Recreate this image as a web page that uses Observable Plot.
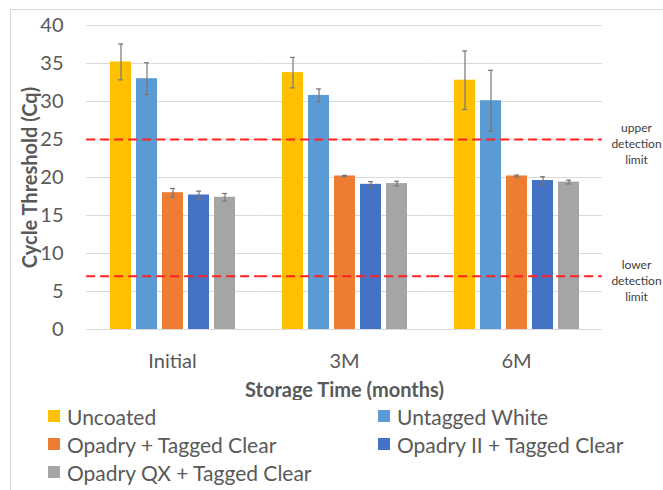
<!DOCTYPE html>
<html><head><meta charset="utf-8">
<script src="https://cdn.jsdelivr.net/npm/d3@7"></script>
<script src="https://cdn.jsdelivr.net/npm/@observablehq/plot@0.6"></script>
<style>
body{margin:0;background:#fff;font-family:Lato,sans-serif;}
#wrap{position:relative;width:663px;height:490px;overflow:hidden;background:#fff;}
#border{position:absolute;left:10px;top:9px;width:700px;height:600px;border-left:1px solid #d9d9d9;border-top:1px solid #d9d9d9;}
#chart{position:absolute;left:0;top:0;}
.item{position:absolute;display:flex;align-items:center;font-size:21px;color:#595959;white-space:nowrap;height:28px;font-family:Lato,sans-serif;}
.sw{width:12px;height:12px;margin-right:7px;flex:none;}
</style></head>
<body><div id="wrap"><div id="border"></div><div id="chart"></div><div id="legend"></div></div>
<script>
const times = ["Initial", "3M", "6M"];
const series = ["Uncoated", "Untagged White", "Opadry + Tagged Clear", "Opadry II + Tagged Clear", "Opadry QX + Tagged Clear"];
const colors = ["#FFC000", "#5B9BD5", "#ED7D31", "#4472C4", "#A5A5A5"];
const uncoated = [35.2, 33.8, 32.8];
const untaggedWhite = [33.0, 30.8, 30.1];
const opadry = [18.0, 20.2, 20.2];
const opadryII = [17.7, 19.1, 19.6];
const opadryQX = [17.4, 19.2, 19.4];
const errUncoated = [2.35, 2.0, 3.85];
const errUntaggedWhite = [2.1, 0.85, 4.0];
const errOpadry = [0.55, 0.08, 0.12];
const errOpadryII = [0.5, 0.35, 0.5];
const errOpadryQX = [0.5, 0.3, 0.25];
const yTicks = [0, 5, 10, 15, 20, 25, 30, 35, 40];
const limits = [
  {y: 25, label: "upper\ndetection\nlimit"},
  {y: 7, label: "lower\ndetection\nlimit"}
];
const yTitle = "Cycle Threshold (Cq)";
const xTitle = "Storage Time (months)";

const values = [uncoated, untaggedWhite, opadry, opadryII, opadryQX];
const errs = [errUncoated, errUntaggedWhite, errOpadry, errOpadryII, errOpadryQX];
const rows = [];
times.forEach((t, i) => series.forEach((s, j) => rows.push({time: t, series: s, value: values[j][i], err: errs[j][i]})));

const grey = "#595959";
const outer = -19.85; // half of the gap between facet groups
const chart = Plot.plot({
  width: 663, height: 400,
  marginLeft: 85, marginRight: 60, marginTop: 25, marginBottom: 71,
  style: {fontFamily: "Lato, sans-serif", color: grey, background: "transparent"},
  y: {domain: [0, 40], axis: null},
  x: {domain: series, paddingInner: 0.21, paddingOuter: 0.105, axis: null},
  fx: {domain: times, paddingInner: 0.23, paddingOuter: 0.115},
  color: {domain: series, range: colors},
  marks: [
    Plot.ruleY(yTicks, {stroke: "#d9d9d9", strokeWidth: 1, insetLeft: outer, insetRight: outer}),
    Plot.axisY({ticks: yTicks, tickSize: 0, tickPadding: 43, fontSize: 20, label: null, fill: grey}),
    Plot.barY(rows, {fx: "time", x: "series", y: "value", fill: "series"}),
    Plot.ruleX(rows, {fx: "time", x: "series", y1: d => d.value - d.err, y2: d => d.value + d.err, stroke: "#777", strokeWidth: 1.2}),
    Plot.tickY(rows, {fx: "time", x: "series", y: d => d.value - d.err, stroke: "#777", strokeWidth: 1.2, insetLeft: 8, insetRight: 8}),
    Plot.tickY(rows, {fx: "time", x: "series", y: d => d.value + d.err, stroke: "#777", strokeWidth: 1.2, insetLeft: 8, insetRight: 8}),
    Plot.ruleY(limits, {y: "y", stroke: "#ff2020", strokeWidth: 2, strokeDasharray: "9,5", insetLeft: outer, insetRight: outer}),
    Plot.text(limits, {fx: () => times[2], y: "y", text: "label", frameAnchor: "right", textAnchor: "middle", dx: 54, dy: 3.5, fontSize: 12, lineHeight: 1.33, fill: "#404040"}),
    Plot.axisFx({anchor: "bottom", fontSize: 20, tickSize: 0, tickPadding: 24, label: null, fill: grey}),
    Plot.text([yTitle], {fx: () => times[0], text: d => d, frameAnchor: "left", textAnchor: "middle", dx: -76, rotate: -90, fontSize: 20, fontWeight: "bold", fill: grey}),
    Plot.text([xTitle], {fx: () => times[1], text: d => d, frameAnchor: "bottom", dy: 67, fontSize: 20, fontWeight: "bold", fill: grey})
  ]
});
document.getElementById("chart").appendChild(chart);

const legend = document.getElementById("legend");
const lefts = [48, 378];
const tops = [402, 430, 458];
series.forEach((s, i) => {
  const it = document.createElement("div");
  it.className = "item";
  it.style.left = lefts[i % 2] + "px";
  it.style.top = tops[Math.floor(i / 2)] + "px";
  const sw = document.createElement("span");
  sw.className = "sw";
  sw.style.background = colors[i];
  const tx = document.createElement("span");
  tx.textContent = s;
  it.appendChild(sw); it.appendChild(tx);
  legend.appendChild(it);
});
</script>
</body></html>
